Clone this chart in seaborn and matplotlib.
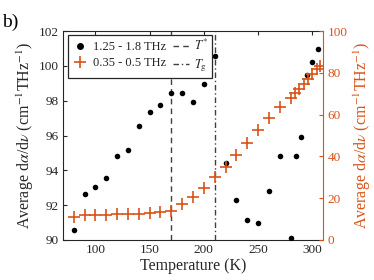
import matplotlib
matplotlib.use("Agg")
import matplotlib.pyplot as plt
import seaborn as sns
import pandas as pd
from matplotlib.lines import Line2D

# Data: 1.25 - 1.8 THz (left axis)
temp_hi = [80, 90, 100, 110, 120, 130, 140, 150, 160, 170, 180, 190, 200, 210,
           220, 230, 240, 250, 260, 270, 280, 285, 290, 295, 300, 305]
val_hi = [90.6, 92.65, 93.05, 93.55, 94.85, 95.15, 96.57, 97.36, 97.74, 98.43,
          98.46, 97.9, 98.95, 100.55, 94.4, 92.3, 91.15, 90.95, 92.8, 94.85,
          90.1, 94.85, 95.9, 99.45, 100.2, 100.95]

# Data: 0.35 - 0.5 THz (right axis)
temp_lo = [80, 90, 100, 110, 120, 130, 140, 150, 160, 170, 180, 190, 200, 210,
           220, 230, 240, 250, 260, 270, 280, 284, 288, 292, 296, 300, 304, 307]
val_lo = [10.8, 11.8, 11.8, 12.0, 12.3, 12.4, 12.6, 12.9, 13.2, 14.0, 17.2, 20.7,
          24.7, 30.3, 35.1, 40.7, 46.3, 52.6, 58.2, 63.8, 67.8, 70.2, 72.5, 74.8,
          77.2, 79.6, 82.0, 83.5]

T_star = 170
T_g = 210

x_ticks = [100, 150, 200, 250, 300]
left_ticks = [90, 92, 94, 96, 98, 100, 102]
right_ticks = [0, 20, 40, 60, 80, 100]

orange = "#D95319"
dark = "#262626"

sns.set_theme(style="white")
plt.rcParams["font.family"] = ["Liberation Serif", "DejaVu Serif"]
plt.rcParams["mathtext.fontset"] = "stix"

df_hi = pd.DataFrame({"T": temp_hi, "v": val_hi})
df_lo = pd.DataFrame({"T": temp_lo, "v": val_lo})

fig = plt.figure(figsize=(3.74, 2.8), dpi=100)
ax = fig.add_axes([0.168, 0.143, 0.696, 0.746])
ax2 = ax.twinx()

ax.axvline(T_star, color="#404040", lw=1.0, ls=(0, (4, 3)), zorder=1)
ax.axvline(T_g, color="#404040", lw=1.0, ls=(0, (4, 2, 1, 2)), zorder=1)

sns.scatterplot(data=df_hi, x="T", y="v", ax=ax, color="black", marker="o",
                s=16, edgecolor="black", linewidth=0, zorder=3)
sns.scatterplot(data=df_lo, x="T", y="v", ax=ax2, color=orange, marker="+",
                s=80, linewidth=1.2, zorder=3)

ax.set_xlim(70, 310)
ax.set_ylim(90, 102)
ax2.set_ylim(0, 100)
ax.set_xticks(x_ticks)
ax.set_yticks(left_ticks)
ax2.set_yticks(right_ticks)

lab = r"Average d$\alpha$/d$\nu$ (cm$^{-1}$THz$^{-1}$)"
ax.set_xlabel("Temperature (K)", fontsize=11.5, color=dark, labelpad=1)
ax.set_ylabel(lab, fontsize=11.5, color=dark, labelpad=2)
ax2.set_ylabel(lab, fontsize=11.5, color=orange, labelpad=3)

ax.tick_params(axis="both", direction="in", length=3, width=0.8, labelsize=9.5,
               colors=dark, top=True, pad=3)
ax2.tick_params(axis="y", direction="in", length=3, width=0.8, labelsize=9.5,
                colors=orange, pad=3)

for s in ["left", "bottom", "top"]:
    ax.spines[s].set_color(dark)
    ax.spines[s].set_linewidth(0.8)
for s in ["left", "bottom", "top"]:
    ax2.spines[s].set_visible(False)
ax.spines["right"].set_visible(False)
ax2.spines["right"].set_color(orange)
ax2.spines["right"].set_linewidth(0.8)

handles = [
    Line2D([], [], ls="none", marker="o", color="black", markersize=4),
    Line2D([], [], ls="none", marker="+", color=orange, markersize=9, markeredgewidth=1.2),
    Line2D([], [], color="#404040", lw=1.0, ls=(0, (4, 3))),
    Line2D([], [], color="#404040", lw=1.0, ls=(0, (4, 2, 1, 2))),
]
labels = ["1.25 - 1.8 THz", "0.35 - 0.5 THz", r"$T^{*}$", r"$T_{\mathrm{g}}$"]
leg = ax2.legend(handles, labels, ncol=2, loc="upper left", bbox_to_anchor=(0.012, 0.995),
                 fontsize=9, frameon=True, fancybox=False, edgecolor=dark,
                 framealpha=1, handlelength=1.3, handletextpad=0.4,
                 columnspacing=0.5, borderpad=0.3, labelspacing=0.3,
                 borderaxespad=0.2)
leg.get_frame().set_linewidth(0.9)
leg.set_zorder(10)

fig.text(0.005, 0.905, "b)", fontsize=14, color="black")

fig.savefig("out.png", dpi=100)
